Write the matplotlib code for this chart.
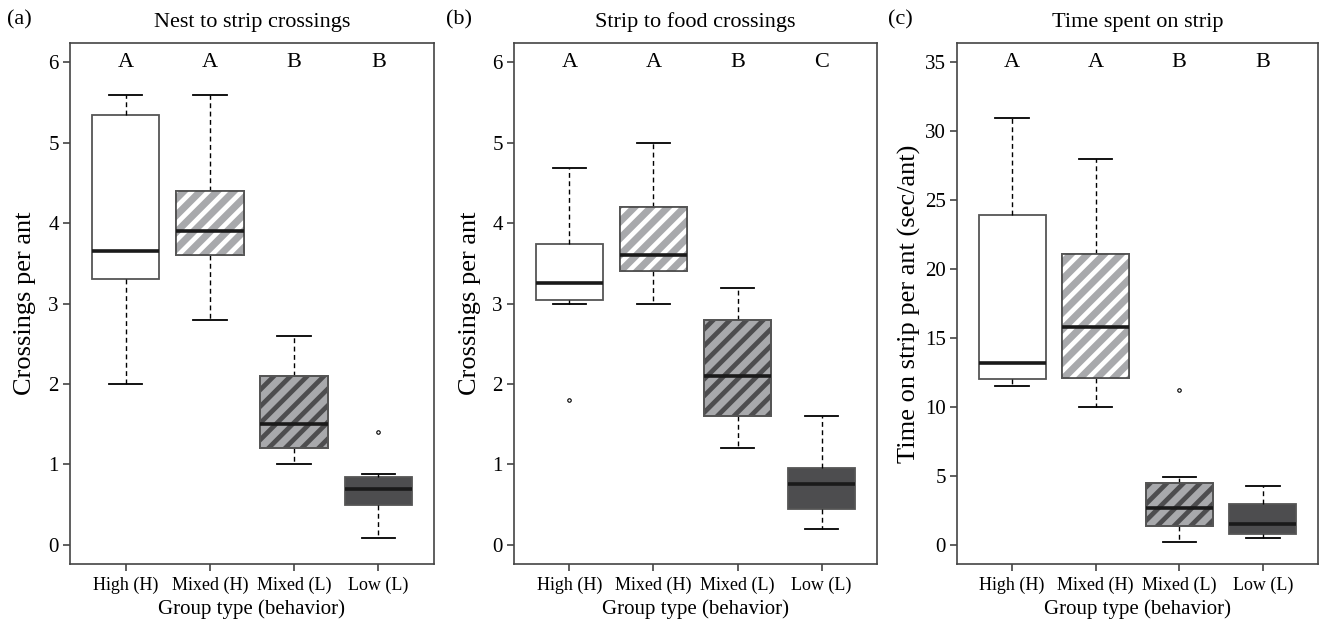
import numpy as np
import matplotlib
matplotlib.use("Agg")
import matplotlib.pyplot as plt
from matplotlib.patches import Rectangle

plt.rcParams['font.family'] = ['Liberation Serif', 'DejaVu Serif']
plt.rcParams['hatch.linewidth'] = 3.4

groups = ['High (H)', 'Mixed (H)', 'Mixed (L)', 'Low (L)']

# (a) nest to strip crossings
a_lo  = [2.0, 2.8, 1.0, 0.08]
a_q1  = [3.3, 3.6, 1.2, 0.5]
a_med = [3.65, 3.9, 1.5, 0.69]
a_q3  = [5.35, 4.4, 2.1, 0.84]
a_hi  = [5.6, 5.6, 2.6, 0.88]
a_out = [[], [], [], [1.4]]
a_letters = ['A', 'A', 'B', 'B']

# (b) strip to food crossings
b_lo  = [3.0, 3.0, 1.2, 0.2]
b_q1  = [3.05, 3.4, 1.6, 0.45]
b_med = [3.25, 3.6, 2.1, 0.75]
b_q3  = [3.74, 4.2, 2.79, 0.95]
b_hi  = [4.69, 5.0, 3.2, 1.6]
b_out = [[1.8], [], [], []]
b_letters = ['A', 'A', 'B', 'C']

# (c) time spent on strip
c_lo  = [11.5, 10.0, 0.22, 0.5]
c_q1  = [12.0, 12.1, 1.35, 0.8]
c_med = [13.2, 15.8, 2.65, 1.5]
c_q3  = [23.9, 21.1, 4.5, 2.95]
c_hi  = [31.0, 28.0, 4.93, 4.25]
c_out = [[], [], [11.25], []]
c_letters = ['A', 'A', 'B', 'B']

LIGHT = '#a8a9ac'
DARK = '#4d4d4f'
fills = ['white', LIGHT, LIGHT, DARK]
stripes = [None, 'white', DARK, None]
EDGE = '#555555'


def panel(ax, lo, q1, med, q3, hi, out, letters, ymax, yticks, ylabel, title, ypad):
    stats = []
    for i in range(4):
        stats.append(dict(whislo=lo[i], q1=q1[i], med=med[i], q3=q3[i],
                          whishi=hi[i], fliers=out[i]))
    bp = ax.bxp(stats, positions=range(1, 5), widths=0.8, patch_artist=True,
                boxprops=dict(linewidth=1.3, edgecolor=EDGE),
                whiskerprops=dict(linestyle=(0, (3.5, 2.5)), linewidth=1.0, color='black'),
                capprops=dict(linewidth=1.3, color='black'),
                medianprops=dict(linewidth=2.6, color='#1a1a1a', solid_capstyle='butt'),
                flierprops=dict(marker='o', markersize=2.5, markerfacecolor='white',
                                markeredgecolor='black', markeredgewidth=0.8),
                capwidths=0.4)
    for i, box in enumerate(bp['boxes']):
        box.set_facecolor(fills[i])
        if stripes[i] is not None:
            # hatch layer drawn on top of the fill, outline redrawn after
            r = Rectangle((i + 1 - 0.4, q1[i]), 0.8, q3[i] - q1[i], facecolor='none',
                          edgecolor=stripes[i], hatch='//', linewidth=0, zorder=2.05)
            ax.add_patch(r)
            r2 = Rectangle((i + 1 - 0.4, q1[i]), 0.8, q3[i] - q1[i], facecolor='none',
                           edgecolor=EDGE, linewidth=1.3, zorder=2.1)
            ax.add_patch(r2)
    for m in bp['medians']:
        m.set_zorder(3)

    for i, t in enumerate(letters):
        ax.text(i + 1, ymax, t, ha='center', va='center', fontsize=16)

    pad = 0.04 * ymax
    ax.set_ylim(-pad, ymax + pad)
    ax.set_xlim(0.5 - 0.16, 4.5 + 0.16)
    ax.set_yticks(yticks)
    ax.set_yticklabels([str(v) for v in yticks], fontsize=15)
    ax.set_xticks(range(1, 5))
    ax.set_xticklabels(groups, fontsize=13)
    ax.tick_params(axis='both', direction='out', length=5, width=1.2, color='#444444')
    ax.tick_params(axis='y', pad=3)
    ax.tick_params(axis='x', pad=4)
    for s in ax.spines.values():
        s.set_linewidth(1.2)
        s.set_color('#444444')
    ax.set_xlabel('Group type (behavior)', fontsize=15, labelpad=4)
    ax.set_ylabel(ylabel, fontsize=19, labelpad=ypad)
    ax.set_title(title, fontsize=16, pad=12)


fig = plt.figure(figsize=(13.2, 6.23), dpi=100)
bottom, height = 0.0947, 0.836
ax1 = fig.add_axes([0.053, bottom, 0.2758, height])
ax2 = fig.add_axes([0.3894, bottom, 0.2750, height])
ax3 = fig.add_axes([0.7250, bottom, 0.2735, height])

panel(ax1, a_lo, a_q1, a_med, a_q3, a_hi, a_out, a_letters, 6, range(0, 7),
      'Crossings per ant', 'Nest to strip crossings', 9)
panel(ax2, b_lo, b_q1, b_med, b_q3, b_hi, b_out, b_letters, 6, range(0, 7),
      'Crossings per ant', 'Strip to food crossings', 8)
panel(ax3, c_lo, c_q1, c_med, c_q3, c_hi, c_out, c_letters, 35, range(0, 36, 5),
      'Time on strip per ant (sec/ant)', 'Time spent on strip', 3)

for x, tag in [(0.005, '(a)'), (0.338, '(b)'), (0.673, '(c)')]:
    fig.text(x, 0.968, tag, fontsize=16, ha='left', va='center')

fig.savefig('out.png', dpi=100)
